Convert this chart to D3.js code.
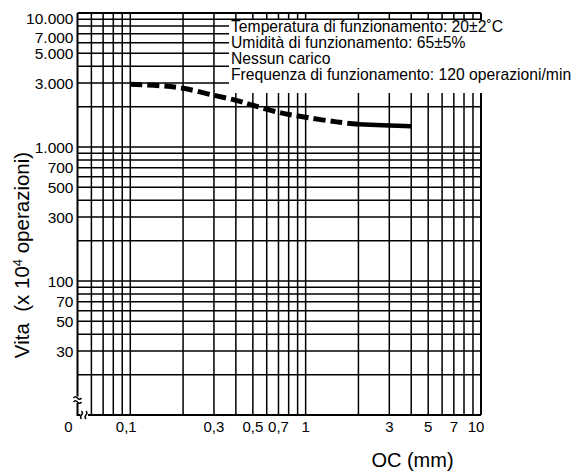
<!DOCTYPE html>
<html><head><meta charset="utf-8">
<script src="https://cdn.jsdelivr.net/npm/d3@7"></script>
<style>
html,body{margin:0;padding:0;background:#fff;}
svg{display:block;font-family:"Liberation Sans",Arial,Helvetica,sans-serif;}
</style>
</head><body>
<svg id="chart" width="579" height="474"></svg>
<script>
// ---- data ----
const xDomain = [0.05, 10];
const yDomain = [10, 10000];
const xTickValues = [0.1, 0.3, 0.5, 0.7, 1, 3, 5, 7, 10];
const xTickLabels = ["0,1", "0,3", "0,5", "0,7", "1", "3", "5", "7", "10"];
const yTickValues = [10000, 7000, 5000, 3000, 1000, 700, 500, 300, 100, 70, 50, 30];
const yTickLabels = ["10.000", "7.000", "5.000", "3.000", "1.000", "700", "500", "300", "100", "70", "50", "30"];
const dashedX = [0.1, 0.15, 0.2, 0.3, 0.4, 0.5, 0.7, 1, 1.5, 2];
const dashedY = [2940, 2860, 2740, 2430, 2230, 2050, 1815, 1665, 1540, 1476];
const solidX = [2, 3, 4];
const solidY = [1476, 1450, 1426];
const legendLines = [
  "Temperatura di funzionamento: 20±2˚C",
  "Umidità di funzionamento: 65±5%",
  "Nessun carico",
  "Frequenza di funzionamento: 120 operazioni/min"
];
const originLabel = "0";
const xTitle = "OC (mm)";
const yTitleMain = "Vita  (x 10";
const yTitleSup = "4";
const yTitleEnd = " operazioni)";

// ---- drawing ----
const svg = d3.select("#chart");
const x = d3.scaleLog().domain(xDomain).range([77.5, 481]);
const y = d3.scaleLog().domain(yDomain).range([415, 13]);
const x0 = x.range()[0], x1 = x.range()[1];
const yb = y.range()[0], yt = y.range()[1];
const gridW = 1.5;

// grid
const g = svg.append("g");
g.selectAll("line.v").data(x.ticks().filter(d => d > xDomain[0] && d < xDomain[1]))
  .join("line").attr("class", "v")
  .attr("x1", d => x(d)).attr("x2", d => x(d))
  .attr("y1", yt).attr("y2", yb)
  .attr("stroke", "#000").attr("stroke-width", gridW);
g.selectAll("line.h").data(y.ticks().filter(d => d > yDomain[0] && d < yDomain[1]))
  .join("line").attr("class", "h")
  .attr("x1", x0).attr("x2", x1)
  .attr("y1", d => y(d)).attr("y2", d => y(d))
  .attr("stroke", "#000").attr("stroke-width", gridW);

// frame
const frame = svg.append("g").attr("fill", "none").attr("stroke", "#000").attr("stroke-width", 2);
frame.append("line").attr("x1", x0).attr("x2", x1).attr("y1", yt).attr("y2", yt);
frame.append("line").attr("x1", x1).attr("x2", x1).attr("y1", yt).attr("y2", yb);
frame.append("line").attr("x1", x0).attr("x2", x0).attr("y1", yt).attr("y2", yb - 18.5);
frame.append("path").attr("d", `M${x0},${yb - 12} V${yb} H${x0 + 3}`);
frame.append("line").attr("x1", x0 + 10.5).attr("x2", x1).attr("y1", yb).attr("y2", yb);
// break marks
const brk = svg.append("g").attr("fill", "none").attr("stroke", "#000").attr("stroke-width", 1.4);
brk.append("path").attr("d", `M${x0 - 4},${yb - 17} q2,-2.5 4,0 t4,0`);
brk.append("path").attr("d", `M${x0 - 4},${yb - 13} q2,-2.5 4,0 t4,0`);
brk.append("path").attr("d", `M${x0 + 4},${yb - 4} q2,2 0,4 t0,4`);
brk.append("path").attr("d", `M${x0 + 8.5},${yb - 4} q2,2 0,4 t0,4`);

// legend box
svg.append("rect").attr("x", 229).attr("y", 20).attr("width", 350).attr("height", 73).attr("fill", "#fff");
svg.append("g").selectAll("text").data(legendLines).join("text")
  .attr("x", 231).attr("y", (d, i) => 31.5 + i * 16.3)
  .attr("font-size", 15.7).attr("fill", "#000")
  .text(d => d);

// curve
const line = d3.line().x(d => x(d[0])).y(d => y(d[1])).curve(d3.curveCatmullRom);
svg.append("path").datum(dashedX.map((v, i) => [v, dashedY[i]]))
  .attr("d", line).attr("fill", "none").attr("stroke", "#000")
  .attr("stroke-width", 5).attr("stroke-dasharray", "12 5");
svg.append("path").datum(solidX.map((v, i) => [v, solidY[i]]))
  .attr("d", line).attr("fill", "none").attr("stroke", "#000")
  .attr("stroke-width", 4.5);

// y tick labels
const yDy = {10000: 5.5, 7000: 3.4};
svg.append("g").selectAll("text").data(yTickValues).join("text")
  .attr("x", x0 - 4).attr("y", d => y(d) + (yDy[d] || 0))
  .attr("dy", "0.36em").attr("text-anchor", "end")
  .attr("font-size", 15.5).attr("fill", "#000")
  .text((d, i) => yTickLabels[i]);

// x tick labels
const xDx = {0.1: -4, 10: -5};
svg.append("g").selectAll("text").data(xTickValues).join("text")
  .attr("x", d => x(d) + (xDx[d] || 0)).attr("y", 431.5)
  .attr("text-anchor", "middle")
  .attr("font-size", 15).attr("fill", "#000")
  .text((d, i) => xTickLabels[i]);
svg.append("text").attr("x", x0 - 9).attr("y", 431.5).attr("text-anchor", "middle")
  .attr("font-size", 15).text(originLabel);

// titles
svg.append("text").attr("x", 412.5).attr("y", 467).attr("text-anchor", "middle")
  .attr("font-size", 20).text(xTitle);
const yt2 = svg.append("text").attr("transform", "translate(29,255) rotate(-90)")
  .attr("text-anchor", "middle").attr("font-size", 20.5).style("white-space", "pre");
yt2.append("tspan").text(yTitleMain);
yt2.append("tspan").attr("font-size", 13).attr("dy", -7).text(yTitleSup);
yt2.append("tspan").attr("dy", 7).text(yTitleEnd);
</script>
</body></html>
